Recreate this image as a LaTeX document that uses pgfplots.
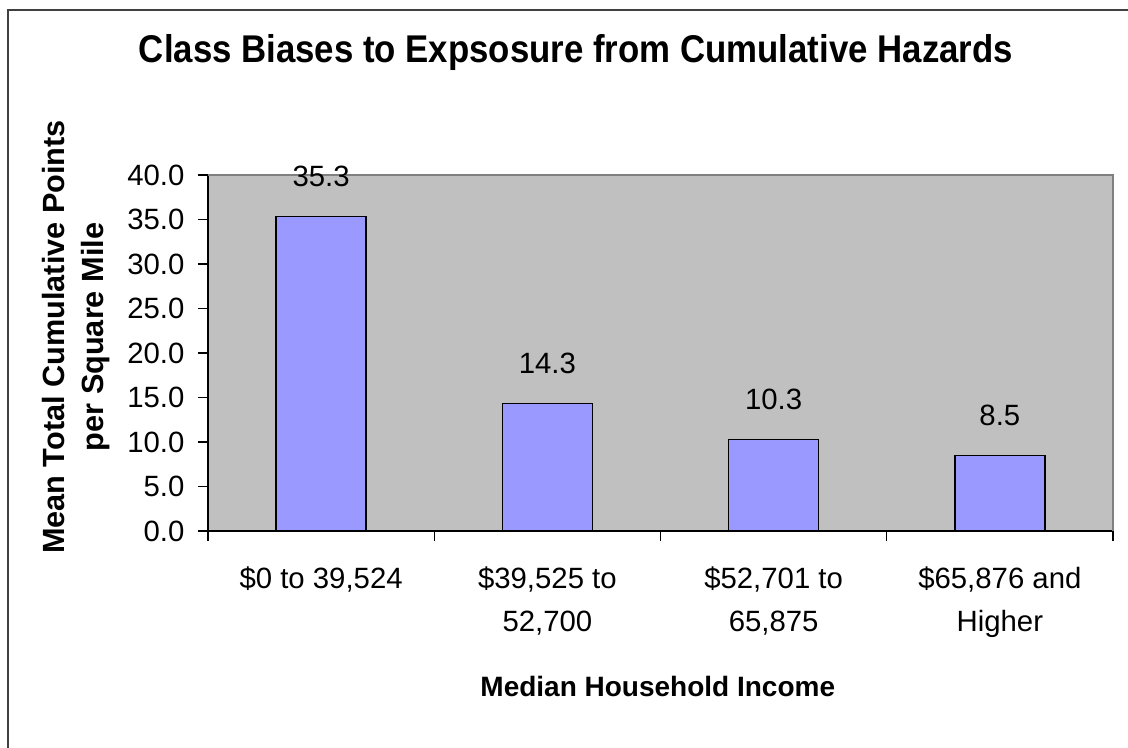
\documentclass[border=0pt]{standalone}
\usepackage{pgfplots}
\pgfplotsset{compat=1.18}
\usepackage{fontspec}
\setmainfont{Liberation Sans}
\newfontfamily\titlefont{Liberation Sans}[FakeStretch=0.9]
\definecolor{barfill}{HTML}{9999FF}
\definecolor{plotbg}{HTML}{C0C0C0}
\begin{document}
\begin{tikzpicture}
\useasboundingbox (0,0) rectangle (846pt,560.25pt);
\draw[line width=1.5pt, black!75] (6pt,-20pt) -- (6pt,552.75pt) -- (870pt,552.75pt);
\pgfkeys{/pgf/number format/.cd, fixed, fixed zerofill, precision=1, assume math mode=true}
\begin{axis}[
  at={(156pt,162pt)}, anchor=south west,
  scale only axis, width=678.75pt, height=267pt,
  xmin=0.5, xmax=4.5, ymin=0, ymax=40,
  clip=false,
  axis background/.style={fill=plotbg},
  axis x line*=bottom, axis y line*=left,
  axis line style={black, line width=1pt},
  ybar,
  xtick={0.5,1.5,2.5,3.5,4.5}, xticklabels={},
  extra x ticks={1,2,3,4},
  extra x tick labels={{\$0 to 39,524},{\$39,525 to\\52,700},{\$52,701 to\\65,875},{\$65,876 and\\Higher}},
  extra x tick style={major tick length=0pt},
  ytick={0,5,...,40},
  tick align=outside, major tick length=7.5pt,
  tick style={black, line width=1pt},
  xticklabel style={font=\fontsize{22}{32}\selectfont, align=center, anchor=north, inner sep=0pt, yshift=-27pt},
  yticklabel style={font=\fontsize{22}{26}\selectfont, anchor=east, inner sep=0pt, xshift=-10pt},
  nodes near coords,
  nodes near coords style={font=\fontsize{22}{26}\selectfont, inner sep=0pt, anchor=south, yshift=22pt},
  title={Class Biases to Expsosure from Cumulative Hazards},
  title style={at={(axis description cs:0.4066,1.323)}, anchor=center, font=\titlefont\bfseries\fontsize{29}{34}\selectfont},
  xlabel={Median Household Income},
  xlabel style={at={(axis description cs:0.497,-0.438)}, anchor=center, font=\bfseries\fontsize{21}{25}\selectfont},
  ylabel={Mean Total Cumulative Points\\per Square Mile},
  ylabel style={at={(axis description cs:-0.1459,0.545)}, anchor=center, align=center, font=\bfseries\fontsize{23}{29.5}\selectfont},
]
\addplot[ybar, bar width=67.5pt, fill=barfill, draw=black, line width=1pt] coordinates {(1,35.3) (2,14.3) (3,10.3) (4,8.5)};
\draw[gray, line width=1pt] (rel axis cs:0,1) -- (rel axis cs:1,1) -- (rel axis cs:1,0);
\end{axis}
\end{tikzpicture}
\end{document}
